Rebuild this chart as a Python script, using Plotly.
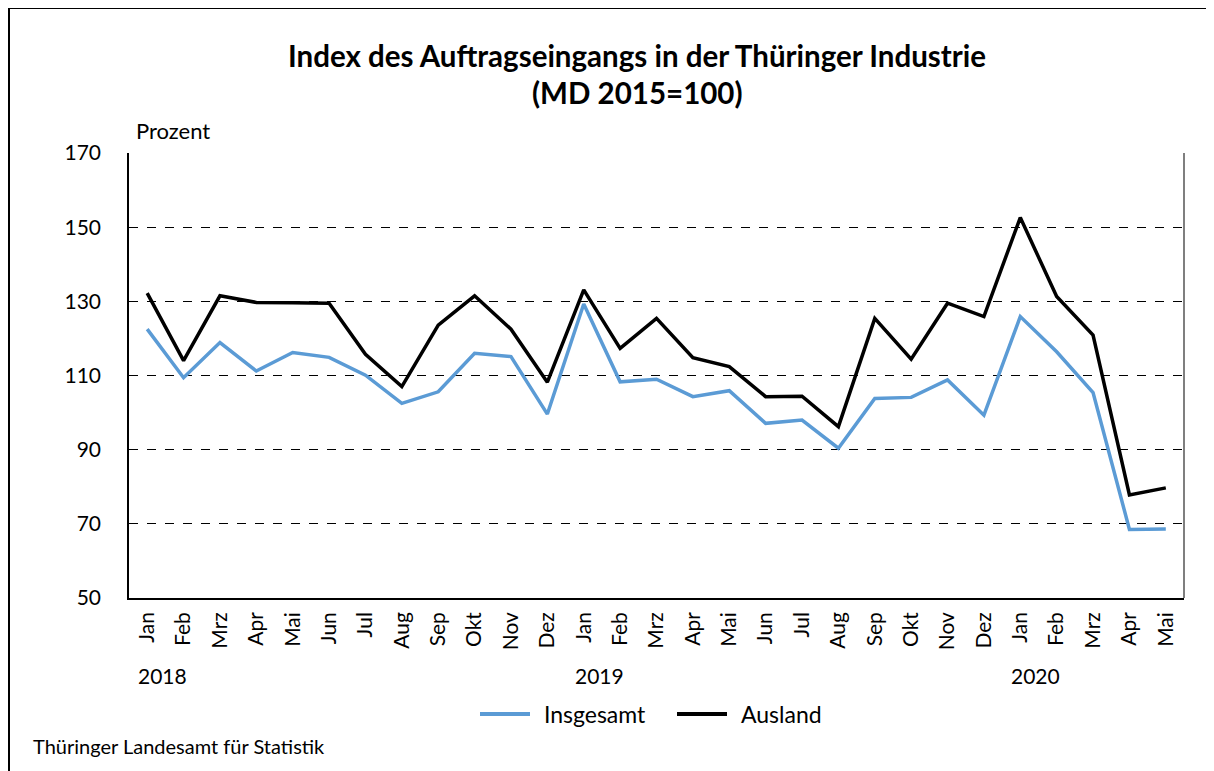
import plotly.graph_objects as go

months = ["Jan", "Feb", "Mrz", "Apr", "Mai", "Jun", "Jul", "Aug", "Sep", "Okt", "Nov", "Dez",
          "Jan", "Feb", "Mrz", "Apr", "Mai", "Jun", "Jul", "Aug", "Sep", "Okt", "Nov", "Dez",
          "Jan", "Feb", "Mrz", "Apr", "Mai"]
years = ["2018", "2019", "2020"]
year_start_idx = [0, 12, 24]

insgesamt = [122.5, 109.4, 118.9, 111.2, 116.2, 114.9, 110.1, 102.5, 105.6, 116.0, 115.1, 99.6,
             129.3, 108.3, 109.0, 104.3, 105.9, 97.1, 98.0, 90.4, 103.8, 104.1, 108.8, 99.3,
             125.9, 116.4, 105.4, 68.5, 68.6]
ausland = [132.2, 114.0, 131.5, 129.7, 129.6, 129.5, 115.7, 107.0, 123.6, 131.5, 122.5, 108.2,
           133.1, 117.3, 125.4, 114.8, 112.4, 104.3, 104.4, 96.2, 125.4, 114.4, 129.5, 125.9,
           152.6, 131.3, 120.9, 77.8, 79.7]
yticks = [50, 70, 90, 110, 130, 150, 170]
series_names = ["Insgesamt", "Ausland"]
series_colors = ["#5B9BD5", "#000000"]

FONT = "Lato"
x = list(range(len(months)))

# page offset (browser default body margin)
OFF = 8
W, H = 1214 - OFF, 771 - OFF
# plot area in screen pixels of the target
PL, PR, PT, PB = 129, 1184, 153, 598
L, R, T, B = PL - OFF, (1214 - PR), PT - OFF, (771 - PB)
pw, ph = W - L - R, H - T - B


def px_x(p):
    return (p - OFF - L) / pw


def px_y(p):
    return (H - B - (p - OFF)) / ph


fig = go.Figure()
for name, vals, col in zip(series_names, [insgesamt, ausland], series_colors):
    fig.add_trace(go.Scatter(x=x, y=vals, mode="lines", name=name,
                             line=dict(color=col, width=3.5)))

fig.update_layout(
    width=W, height=H,
    margin=dict(l=L, r=R, t=T, b=B),
    paper_bgcolor="white", plot_bgcolor="white",
    font=dict(family=FONT, color="black"),
    showlegend=False,
    xaxis=dict(range=[-0.5, len(months) - 0.5], tickmode="array", tickvals=x, ticktext=months,
               tickangle=-90, tickfont=dict(size=21, family=FONT), showgrid=False,
               showline=True, linecolor="black", linewidth=1.5, ticks="", zeroline=False,
               ticklabelstandoff=4),
    yaxis=dict(range=[50, 170], tickmode="array", tickvals=yticks,
               tickfont=dict(size=21, family=FONT), showgrid=True, gridcolor="black",
               griddash="dash", gridwidth=1, showline=True, linecolor="black", linewidth=1.5,
               ticks="", zeroline=False, ticklabelstandoff=22),
)

annotations = [
    dict(text="<b>Index des Auftragseingangs in der Thüringer Industrie</b>", xref="paper",
         yref="paper", x=px_x(637), y=px_y(55), xanchor="center", yanchor="middle",
         showarrow=False, font=dict(size=29.5, family=FONT)),
    dict(text="<b>(MD 2015=100)</b>", xref="paper", yref="paper", x=px_x(637), y=px_y(93),
         xanchor="center", yanchor="middle", showarrow=False, font=dict(size=29.5, family=FONT)),
    dict(text="Prozent", xref="paper", yref="paper", x=px_x(134), y=px_y(130),
         xanchor="left", yanchor="middle", showarrow=False, font=dict(size=22, family=FONT)),
    dict(text="Thüringer Landesamt für Statistik", xref="paper", yref="paper",
         x=px_x(31), y=px_y(746), xanchor="left", yanchor="middle", showarrow=False,
         font=dict(size=20, family=FONT)),
]
for yr, idx in zip(years, year_start_idx):
    annotations.append(dict(text=yr, xref="x", yref="paper", x=idx + 0.42, y=px_y(675),
                            xanchor="center", yanchor="middle", showarrow=False,
                            font=dict(size=21, family=FONT)))

shapes = [
    # right plot border
    dict(type="line", xref="paper", yref="paper", x0=1, x1=1, y0=0, y1=1,
         line=dict(color="#555555", width=1.5)),
    # outer chart frame (left and top)
    dict(type="line", xref="paper", yref="paper", x0=px_x(9), x1=px_x(9), y0=px_y(8), y1=px_y(775),
         line=dict(color="black", width=2)),
    dict(type="line", xref="paper", yref="paper", x0=px_x(9), x1=px_x(1216), y0=px_y(8), y1=px_y(8),
         line=dict(color="black", width=2)),
]

# legend (drawn manually for exact spacing)
legend_line_x = [480, 677]
for lx, name, col in zip(legend_line_x, series_names, series_colors):
    shapes.append(dict(type="line", xref="paper", yref="paper", x0=px_x(lx), x1=px_x(lx + 50),
                       y0=px_y(714), y1=px_y(714), line=dict(color=col, width=4)))
    annotations.append(dict(text=name, xref="paper", yref="paper", x=px_x(lx + 62), y=px_y(714),
                            xanchor="left", yanchor="middle", showarrow=False,
                            font=dict(size=23, family=FONT)))

fig.update_layout(annotations=annotations, shapes=shapes)

fig.write_html("out.html")
